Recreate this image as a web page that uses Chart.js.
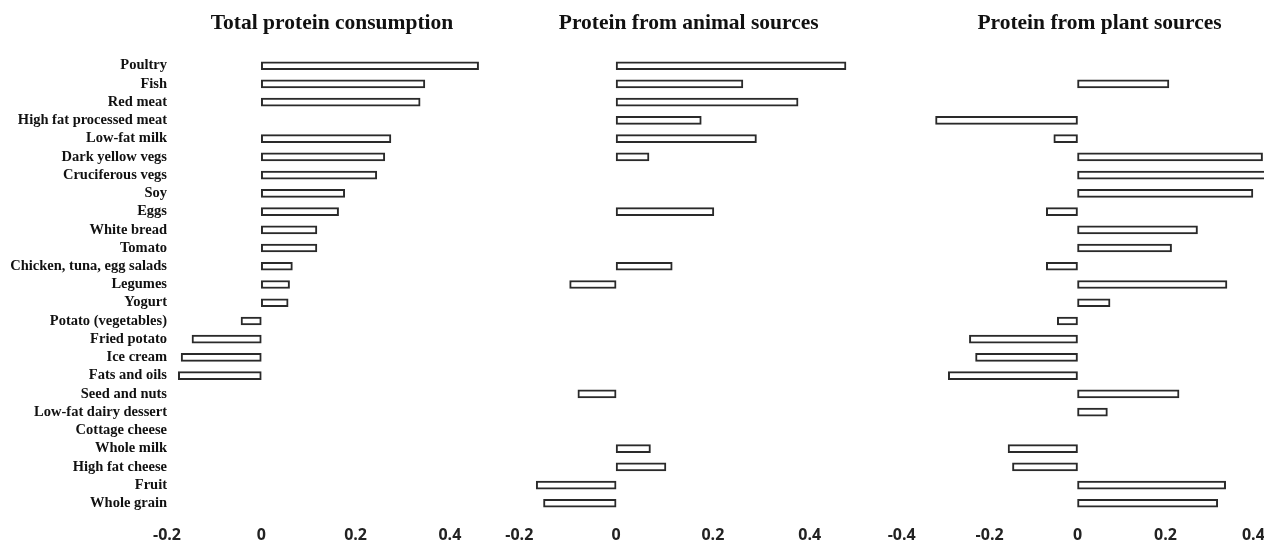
<!DOCTYPE html>
<html>
<head>
<meta charset="utf-8">
<script src="https://cdn.jsdelivr.net/npm/chart.js@4.4.0/dist/chart.umd.min.js"></script>
<style>
  html, body { margin: 0; padding: 0; background: #fff; }
  body { width: 1264px; height: 542px; overflow: hidden; position: relative; }
  .panel { position: absolute; top: 0; height: 542px; }
</style>
</head>
<body>
<div class="panel" id="p1" style="left:0px;width:520px;"><canvas id="c1"></canvas></div>
<div class="panel" id="p2" style="left:490px;width:390px;"><canvas id="c2"></canvas></div>
<div class="panel" id="p3" style="left:870px;width:440px;"><canvas id="c3"></canvas></div>
<script>
const categories = [
  "Poultry", "Fish", "Red meat", "High fat processed meat", "Low-fat milk",
  "Dark yellow vegs", "Cruciferous vegs", "Soy", "Eggs", "White bread",
  "Tomato", "Chicken, tuna, egg salads", "Legumes", "Yogurt", "Potato (vegetables)",
  "Fried potato", "Ice cream", "Fats and oils", "Seed and nuts", "Low-fat dairy dessert",
  "Cottage cheese", "Whole milk", "High fat cheese", "Fruit", "Whole grain"
];

const totalProtein = [
  0.461, 0.347, 0.337, null, 0.275,
  0.262, 0.245, 0.177, 0.164, 0.118,
  0.118, 0.066, 0.060, 0.057, -0.043,
  -0.147, -0.170, -0.176, null, null,
  null, null, null, null, null
];

const animalProtein = [
  0.475, 0.262, 0.376, 0.176, 0.290,
  0.068, null, null, 0.202, null,
  null, 0.116, -0.096, null, null,
  null, null, null, -0.079, null,
  null, 0.071, 0.103, -0.165, -0.150
];

const plantProtein = [
  null, 0.208, null, -0.323, -0.054,
  0.421, 0.44, 0.399, -0.071, 0.273,
  0.214, -0.071, 0.340, 0.074, -0.046,
  -0.246, -0.232, -0.294, 0.231, 0.068,
  null, -0.158, -0.148, 0.337, 0.319
];

const titles = ["Total protein consumption", "Protein from animal sources", "Protein from plant sources"];
const ticks12 = [-0.2, 0, 0.2, 0.4];
const ticks3 = [-0.4, -0.2, 0, 0.2, 0.4];

const CHART_TOP = 56.6;
const X_AXIS_H = 29.6;
const TITLE_FONT = 21.5;

function makeChart(id, title, data, xmin, xmax, tickVals, showY, padL, padR) {
  const titleLH = TITLE_FONT * 1.2;
  const titleTopPad = 23.5 - titleLH / 2;
  const titleBottomPad = CHART_TOP - titleTopPad - titleLH;
  return new Chart(document.getElementById(id), {
    type: 'bar',
    data: {
      labels: categories,
      datasets: [{
        data: data,
        backgroundColor: '#ffffff',
        borderColor: '#2a2a2a',
        borderWidth: 2,
        borderSkipped: false,
        barThickness: 8
      }]
    },
    options: {
      indexAxis: 'y',
      responsive: true,
      maintainAspectRatio: false,
      animation: false,
      layout: { padding: { left: padL, right: padR, top: 0, bottom: 0 } },
      plugins: {
        legend: { display: false },
        tooltip: { enabled: false },
        title: {
          display: true,
          text: title,
          fullSize: false,
          color: '#111',
          font: { family: '"Liberation Serif", "Times New Roman", serif', size: TITLE_FONT, weight: 'bold' },
          padding: { top: titleTopPad, bottom: titleBottomPad }
        }
      },
      scales: {
        x: {
          type: 'linear',
          min: xmin,
          max: xmax,
          grid: { display: false, drawTicks: false },
          border: { display: false },
          afterBuildTicks: (scale) => { scale.ticks = tickVals.map(v => ({ value: v })); },
          afterFit: (scale) => { scale.height = X_AXIS_H; },
          ticks: {
            padding: 13.5,
            color: '#222',
            font: { family: '"Open Sans", sans-serif', size: 16, weight: 'bold' },
            callback: (v) => (v === 0 ? '0' : String(Math.round(v * 10) / 10))
          }
        },
        y: {
          type: 'category',
          grid: { display: false, drawTicks: false },
          border: { display: false },
          afterFit: (scale) => { scale.width = showY ? 167 : 0; },
          ticks: {
            display: showY,
            padding: 0,
            autoSkip: false,
            color: '#111',
            font: { family: '"Liberation Serif", "Times New Roman", serif', size: 14.5, weight: 'bold' }
          }
        }
      }
    }
  });
}

makeChart('c1', titles[0], totalProtein, -0.2, 0.5, ticks12, true, 0, 23);
makeChart('c2', titles[1], animalProtein, -0.2, 0.5, ticks12, false, 29.3, 21.9);
makeChart('c3', titles[2], plantProtein, -0.4, 0.5, ticks3, false, 31.7, 12.7);
</script>
</body>
</html>
